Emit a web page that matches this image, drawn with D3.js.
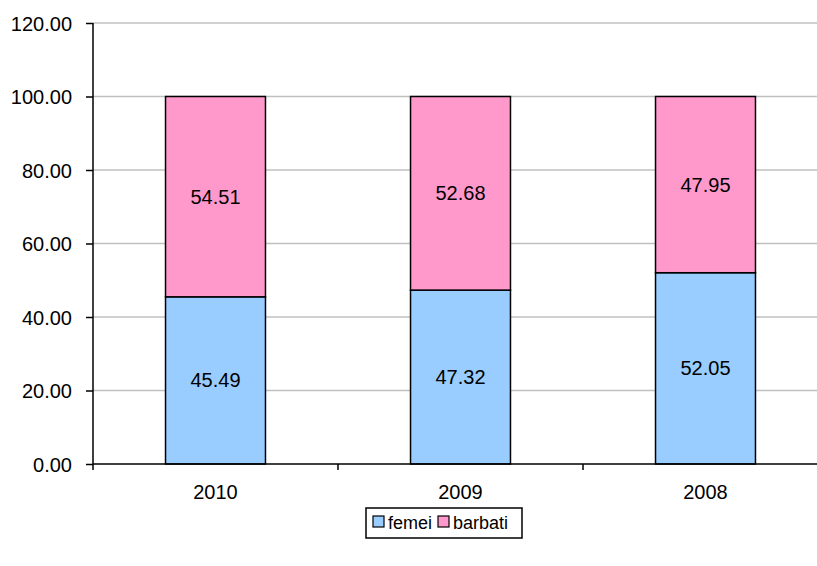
<!DOCTYPE html>
<html><head><meta charset="utf-8">
<script src="https://cdn.jsdelivr.net/npm/d3@7/dist/d3.min.js"></script>
<style>body{margin:0;background:#fff}svg{display:block}text{font-family:"Liberation Sans",Arial,sans-serif;fill:#000}</style>
</head><body><svg id="c" width="817" height="566"></svg>
<script>
const categories = ["2010", "2009", "2008"];
const femei = [45.49, 47.32, 52.05];
const barbati = [54.51, 52.68, 47.95];
const yTicks = [0, 20, 40, 60, 80, 100, 120];
const seriesNames = ["femei", "barbati"];
const colors = ["#99ccff", "#ff99cc"];

const FS = 20;
const svg = d3.select("#c");
const x0 = 93, x1 = 828, yTop = 23, yBot = 464;
const x = d3.scaleBand().domain(categories).range([x0, x1]).paddingInner(0.592).paddingOuter(0.296);
const y = d3.scaleLinear().domain([0, 120]).range([yBot, yTop]);

// gridlines
svg.append("g").selectAll("line").data(yTicks.slice(1)).join("line")
  .attr("x1", x0).attr("x2", 817).attr("y1", d => y(d)).attr("y2", d => y(d))
  .attr("stroke", "#c0c0c0").attr("stroke-width", 1.5);

const data = categories.map((c, i) => ({c, v: [femei[i], barbati[i]]}));
const stack = d3.stack().keys([0, 1]).value((d, k) => d.v[k]);
const layers = stack(data);

layers.forEach((layer, k) => {
  const g = svg.append("g");
  g.selectAll("rect").data(layer).join("rect")
    .attr("x", d => x(d.data.c)).attr("width", x.bandwidth())
    .attr("y", d => y(d[1])).attr("height", d => y(d[0]) - y(d[1]))
    .attr("fill", colors[k]).attr("stroke", "#000").attr("stroke-width", 1.5);
  g.selectAll("text").data(layer).join("text")
    .attr("x", d => x(d.data.c) + x.bandwidth() / 2)
    .attr("y", d => (y(d[0]) + y(d[1])) / 2 + 7)
    .attr("text-anchor", "middle").attr("font-size", FS)
    .text(d => d.data.v[k].toFixed(2));
});

// y axis
const ya = svg.append("g").attr("transform", `translate(${x0},0)`)
  .call(d3.axisLeft(y).tickValues(yTicks).tickSize(7).tickPadding(14).tickFormat(d3.format(".2f")));
ya.attr("font-size", null).attr("font-family", null);
ya.select(".domain").attr("stroke-width", 1.5).attr("d", `M-0,${yTop}V${yBot}`);
ya.selectAll(".tick line").attr("stroke-width", 1.5);
ya.selectAll("text").attr("font-size", FS).attr("dy", "0.35em");

// x axis
const xa = svg.append("g").attr("transform", `translate(0,${yBot})`);
xa.append("line").attr("x1", x0).attr("x2", 817).attr("stroke", "#000").attr("stroke-width", 1.5);
const step = x.step();
xa.selectAll("line.t").data(categories.slice(1)).join("line").attr("class", "t")
  .attr("x1", d => x(d) - (step - x.bandwidth()) / 2).attr("x2", d => x(d) - (step - x.bandwidth()) / 2)
  .attr("y1", 0).attr("y2", 6).attr("stroke", "#000").attr("stroke-width", 1.5);
xa.selectAll("line.t0").data([0]).join("line").attr("class", "t0")
  .attr("x1", x0).attr("x2", x0).attr("y1", 0).attr("y2", 6).attr("stroke", "#000").attr("stroke-width", 1.5);
xa.selectAll("text").data(categories).join("text")
  .attr("x", d => x(d) + x.bandwidth() / 2).attr("y", 35)
  .attr("text-anchor", "middle").attr("font-size", FS).text(d => d);

// legend
const lg = svg.append("g");
lg.append("rect").attr("x", 366).attr("y", 508).attr("width", 156).attr("height", 30)
  .attr("fill", "#fff").attr("stroke", "#000").attr("stroke-width", 1.5);
const items = [{n: seriesNames[0], c: colors[0], x: 373}, {n: seriesNames[1], c: colors[1], x: 438}];
items.forEach(it => {
  lg.append("rect").attr("x", it.x).attr("y", 516).attr("width", 11).attr("height", 11)
    .attr("fill", it.c).attr("stroke", "#000").attr("stroke-width", 1.2);
  lg.append("text").attr("x", it.x + 15).attr("y", 529).attr("font-size", 18).text(it.n);
});
</script></body></html>
